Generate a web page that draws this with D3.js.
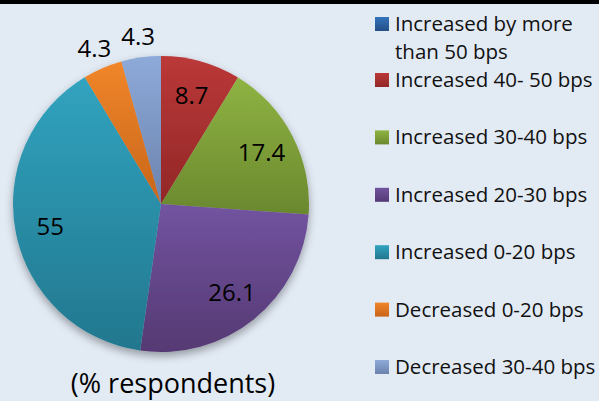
<!DOCTYPE html>
<html>
<head>
<meta charset="utf-8">
<script src="https://cdn.jsdelivr.net/npm/d3@7"></script>
<style>
  html, body { margin: 0; padding: 0; background: #e2eaf4; }
  svg { display: block; font-family: "Open Sans", sans-serif; }
</style>
</head>
<body>
<svg width="599" height="401"></svg>
<script>
// legend entries, in slice order (clockwise from 12 o'clock)
var categories = ["Increased by more than 50 bps", "Increased 40- 50 bps", "Increased 30-40 bps",
                  "Increased 20-30 bps", "Increased 0-20 bps", "Decreased 0-20 bps", "Decreased 30-40 bps"];
var shares = [0, 8.7, 17.4, 26.1, 39.1, 4.3, 4.3];
// data labels as printed on the chart
var labels = ["", "8.7", "17.4", "26.1", "55", "4.3", "4.3"];
var title = "(% respondents)";

var topColors = ["#3474bb", "#bb3838", "#8fb343", "#7253a0", "#31a3bf", "#f1862a", "#8eaad9"];
var bottomColors = ["#234f86", "#922727", "#6a882e", "#553973", "#22778e", "#c7651a", "#6b83ad"];

function drawPie () {
    var svg = d3.select("svg"),
        width = +svg.attr("width"),
        height = +svg.attr("height"),
        cx = 161, cy = 204, radius = 148;

    svg.append("rect").attr("width", width).attr("height", height).attr("fill", "#e2eaf4");
    svg.append("rect").attr("width", width).attr("height", 4).attr("fill", "#000");

    var defs = svg.append("defs");
    var filter = defs.append("filter").attr("id", "shadow")
        .attr("x", "-20%").attr("y", "-20%").attr("width", "140%").attr("height", "140%");
    filter.append("feDropShadow")
        .attr("dx", 0).attr("dy", 4).attr("stdDeviation", 4)
        .attr("flood-color", "#000").attr("flood-opacity", 0.35);

    categories.forEach(function (c, i) {
        var lg = defs.append("linearGradient").attr("id", "grad" + i)
            .attr("x1", 0).attr("y1", 0).attr("x2", 0).attr("y2", 1);
        lg.append("stop").attr("offset", "0%").attr("stop-color", topColors[i]);
        lg.append("stop").attr("offset", "100%").attr("stop-color", bottomColors[i]);
    });

    var pie = d3.pie().sort(null).value(function (d) { return d; });
    var arcs = pie(shares);

    var arc = d3.arc().innerRadius(0).outerRadius(radius);
    var inLabel = d3.arc().innerRadius(113).outerRadius(113);
    var outLabel = d3.arc().innerRadius(169).outerRadius(169);

    var g = svg.append("g").attr("transform", "translate(" + cx + "," + cy + ")");

    g.append("g")
        .attr("filter", "url(#shadow)")
        .selectAll("path")
        .data(arcs.filter(function (d) { return d.value > 0; }))
        .enter().append("path")
            .attr("d", arc)
            .attr("fill", function (d) { return "url(#grad" + d.index + ")"; });

    g.selectAll(".lbl")
        .data(arcs.filter(function (d) { return d.value > 0; }))
        .enter().append("text")
            .attr("class", "lbl")
            .attr("transform", function (d) {
                var p = (d.value < 5 ? outLabel : inLabel).centroid(d);
                return "translate(" + p[0] + "," + p[1] + ")";
            })
            .attr("dy", "0.36em")
            .attr("text-anchor", "middle")
            .style("font-size", "24px")
            .attr("fill", "#000")
            .text(function (d) { return labels[d.index]; });

    svg.append("text")
        .attr("x", 173)
        .attr("y", 393)
        .attr("text-anchor", "middle")
        .style("font-size", "27px")
        .attr("fill", "#000")
        .text(title);

    // legend
    var rowY = d3.scaleLinear().domain([1, 6]).range([80, 367]);
    var legend = svg.selectAll(".legend")
        .data(categories)
        .enter().append("g")
            .attr("class", "legend")
            .attr("transform", function (d, i) {
                return "translate(375," + (i === 0 ? 24 : rowY(i)) + ")";
            });

    legend.append("rect")
        .attr("y", -7)
        .attr("width", 14)
        .attr("height", 14)
        .attr("fill", function (d, i) { return "url(#grad" + i + ")"; });

    legend.append("text")
        .attr("x", 20)
        .attr("y", 7)
        .style("font-size", "20.5px")
        .attr("fill", "#111")
        .each(function (d) {
            var text = d3.select(this),
                words = d.split(" "),
                line = [],
                lineNo = 0,
                tspan = text.append("tspan").attr("x", 20).attr("dy", 0);
            words.forEach(function (w) {
                line.push(w);
                tspan.text(line.join(" "));
                if (tspan.node().getComputedTextLength() > 204 && line.length > 1) {
                    line.pop();
                    tspan.text(line.join(" "));
                    line = [w];
                    lineNo++;
                    tspan = text.append("tspan").attr("x", 20).attr("dy", 27.5).text(w);
                }
            });
        });
}

drawPie();
</script>
</body>
</html>
